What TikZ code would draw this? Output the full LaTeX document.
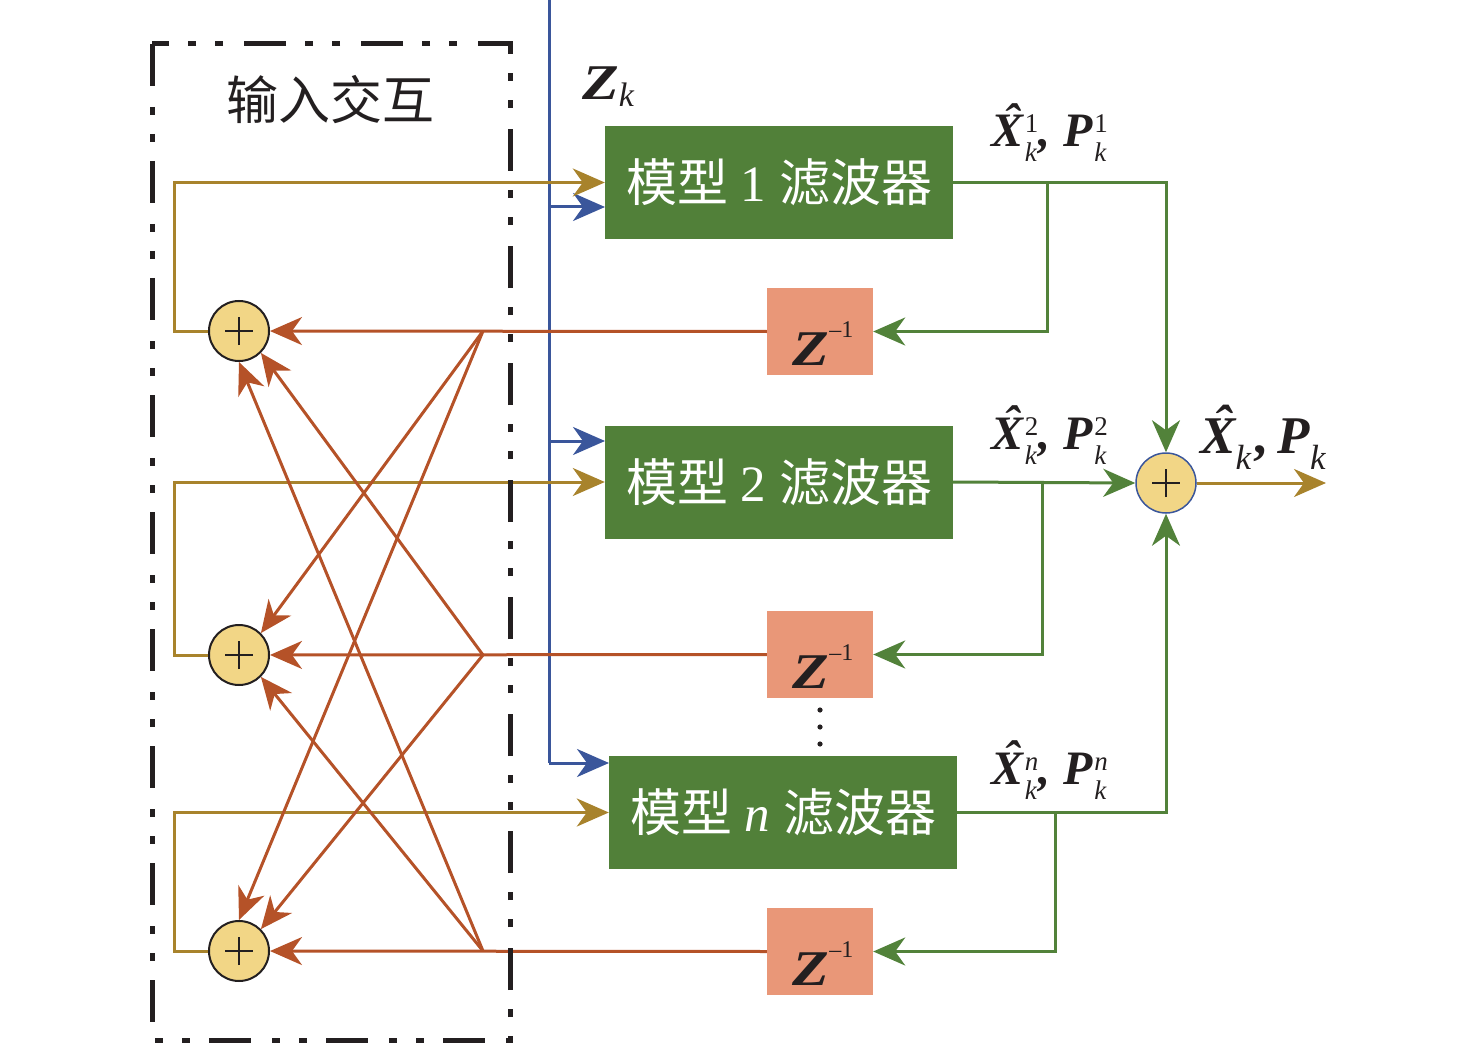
\documentclass[tikz,border=0pt]{standalone}
\usepackage{fontspec}
\usepackage{graphicx}
\setmainfont{Liberation Serif}
\newfontfamily\cjk{Noto Sans CJK SC}
\usetikzlibrary{arrows.meta}
\definecolor{fgreen}{RGB}{81,128,57}
\definecolor{lgreen}{RGB}{82,130,58}
\definecolor{salmon}{RGB}{233,151,120}
\definecolor{rline}{RGB}{181,82,40}
\definecolor{gline}{RGB}{168,131,44}
\definecolor{bline}{RGB}{58,86,155}
\definecolor{sumy}{RGB}{242,214,134}
\definecolor{ink}{RGB}{35,31,32}
% hat X (inside bold italic)
\newcommand\hx{\rlap{\kern0.25em\raisebox{0.2em}{ˆ}}X}
% size, raise, sup, lower, sub
\newcommand\SupSub[5]{{\fontsize{#1}{#1}\selectfont\mdseries\kern0.06em\rlap{\raisebox{#2}{#3}}\raisebox{-#4}{#5}\kern0.08em}}
\newcommand\xlab[1]{{\bfseries\itshape\hx\SupSub{27pt}{14pt}{#1}{15pt}{\itshape k},\hspace{0.26em}P\SupSub{27pt}{14pt}{#1}{15pt}{\itshape k}}}
\newcommand\bz{{\bfseries\itshape\scalebox{1.2}[1]{Z}}}
\newcommand\zinv{\bz{\fontsize{24pt}{24pt}\selectfont\raisebox{28pt}{–1}}}
\tikzset{
  arr/.style={-{Stealth[length=32pt,width=28pt,inset=10pt]}},
  filt/.style={rectangle,fill=fgreen,minimum width=348pt,minimum height=113pt,inner sep=0pt,text=white,font=\fontsize{51}{60}\selectfont},
  zbox/.style={rectangle,fill=salmon,minimum width=106pt,minimum height=87pt,inner sep=0pt,text=ink,
    font=\fontsize{50}{60}\selectfont,text height=68pt,text depth=0pt},
  sumc/.style={circle,fill=sumy,draw=ink,line width=2pt,minimum size=60pt,inner sep=0pt,
    path picture={\draw[ink,line width=1.5pt] (path picture bounding box.center) ++(-14pt,0pt) -- ++(28pt,0pt)
      (path picture bounding box.center) ++(0pt,-14pt) -- ++(0pt,28pt);}},
  rl/.style={rline,line width=3pt},
  gl/.style={gline,line width=3pt},
  bl/.style={bline,line width=3pt},
  grl/.style={lgreen,line width=3pt},
  lab/.style={text=ink,font=\fontsize{48}{56}\selectfont,inner sep=0pt,anchor=base west},
}
\begin{document}
\begin{tikzpicture}[x=1pt,y=-1pt]
\useasboundingbox (0,0) rectangle (1476,1043);
% filters
\node[filt] (f1) at (779,182.5) {{\cjk 模型} 1 {\cjk 滤波器}};
\node[filt] (f2) at (779,482) {{\cjk 模型} 2 {\cjk 滤波器}};
\node[filt] (fn) at (783,812.5) {{\cjk 模型} \textit{n} {\cjk 滤波器}};
% delays
\node[zbox] (z1) at (820,331.5) {\hspace*{6pt}\zinv};
\node[zbox] (z2) at (820,654.5) {\hspace*{6pt}\zinv};
\node[zbox] (z3) at (820,951.5) {\hspace*{6pt}\zinv};
% sum circles
\node[sumc] (c1) at (239,331) {};
\node[sumc] (c2) at (239,655) {};
\node[sumc] (c3) at (239,951) {};
\node[sumc,draw=bline,line width=1.5pt] (cr) at (1166,483) {};
% coordinates
\coordinate (zt) at (549,0);
\coordinate (p1) at (483,331);
\coordinate (p2) at (483,655);
\coordinate (p3) at (483,951);
\coordinate (b1) at (1047,182.5);
\coordinate (b2) at (1042,482);
\coordinate (b3) at (1055,812.5);
\coordinate (out) at (1326,483);
% blue measurement lines
\draw[bl] (zt) -- (549,763);
\draw[bl,arr] (549,207) -- (605,207);
\draw[bl,arr] (549,441) -- (605,441);
\draw[bl,arr] (549,763) -- (609,763);
% gold feedback lines
\draw[gl,arr] (c1.west) -- ++(-34,0) |- (f1.west);
\draw[gl,arr] (c2.west) -- ++(-34,0) |- (f2.west);
\draw[gl,arr] (c3.west) -- ++(-34,0) |- (fn.west);
% red interaction lines
\draw[rl,arr] (z1.west) -- (c1);
\draw[rl,arr] (z2.west) -- (c2);
\draw[rl,arr] (z3.west) -- (c3);
\draw[rl,arr] (p1) -- (c2.north east);
\draw[rl,arr] (p1) -- (c3.north);
\draw[rl,arr] (p2) -- (c1.south east);
\draw[rl,arr] (p2) -- (c3.north east);
\draw[rl,arr] (p3) -- (c1.south);
\draw[rl,arr] (p3) -- (c2.south east);
% green outputs
\draw[grl,arr] (f1.east) -| (cr.north);
\draw[grl,arr] (b1) |- (z1.east);
\draw[grl,arr] (f2.east) -- (cr.west);
\draw[grl,arr] (b2) |- (z2.east);
\draw[grl,arr] (fn.east) -| (cr.south);
\draw[grl,arr] (b3) |- (z3.east);
\draw[gl,arr] (cr.east) -- (out);
% dashed box
\draw[ink,line width=5pt,dash pattern=on 42pt off 21pt on 8pt off 19pt on 8pt off 19pt] (152,44) rectangle (510,1040);
% labels
\node[text=ink,font=\cjk\fontsize{52}{60}\selectfont,inner sep=0pt] (title) at (330,100) {输入交互};
\node[lab,font=\fontsize{50}{58}\selectfont] (zk) at (582,100) {\bz{\fontsize{34pt}{34pt}\selectfont\raisebox{-7pt}{\itshape k}}};
\node[lab] (l1) at (991,147) {\xlab{\upshape 1}};
\node[lab] (l2) at (991,449) {\xlab{\upshape 2}};
\node[lab] (ln) at (991,784) {\xlab{\itshape n}};
\node[lab,font=\fontsize{53}{60}\selectfont] (lo) at (1200,453) {{\bfseries\itshape\hx}{\fontsize{35pt}{35pt}\selectfont\raisebox{-16pt}{\itshape k}\kern0.08em}{\bfseries ,}\hspace{0.2em}{\bfseries\itshape P}{\fontsize{35pt}{35pt}\selectfont\raisebox{-16pt}{\itshape k}}};
% vertical dots
\foreach \yy [count=\i] in {710,727,744} \fill[ink] (820,\yy) circle (2.6pt) coordinate (d\i);
\end{tikzpicture}
\end{document}
